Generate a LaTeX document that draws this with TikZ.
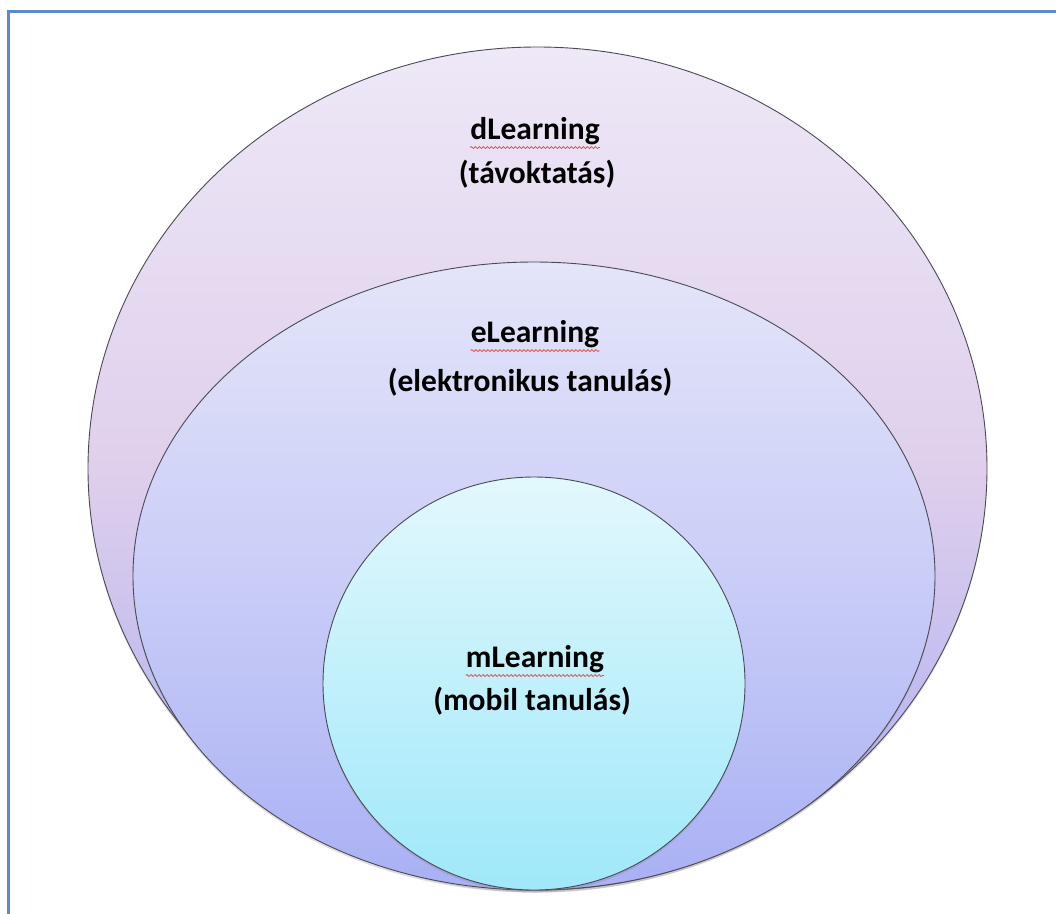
\documentclass[tikz,border=0pt]{standalone}
\usepackage{fontspec}
\setmainfont{Carlito}
\usetikzlibrary{shapes.geometric,shadows,decorations.pathmorphing}
\definecolor{frameblue}{HTML}{5B8BC9}
\definecolor{outtop}{HTML}{EEE8F7}
\definecolor{outmid}{HTML}{DFCFEC}
\definecolor{outbot}{HTML}{A8ACF2}
\definecolor{midtop}{HTML}{E4E5F9}
\definecolor{midmid}{HTML}{CACDF7}
\definecolor{midbot}{HTML}{A9B0F4}
\definecolor{intop}{HTML}{E2F8FC}
\definecolor{inbot}{HTML}{9FE8FA}
\definecolor{edge}{HTML}{4A4A55}
\definecolor{squig}{HTML}{E85050}
\tikzset{
  blob/.style={ellipse, draw=edge, line width=0.9pt, inner sep=0pt,
    drop shadow={opacity=0.25, shadow xshift=0pt, shadow yshift=-2.5pt}},
  lbl/.style={font=\fontsize{31.5}{44}\selectfont\bfseries, text=black, inner sep=0pt, align=center},
  squiggle/.style={draw=squig, line width=0.8pt, decorate,
    decoration={snake, amplitude=1pt, segment length=4pt}}
}
\begin{document}
\begin{tikzpicture}[x=1pt,y=-1pt]
\useasboundingbox (0,0) rectangle (1056,913);
% frame
\draw[frameblue, line width=3pt] (8.5,930) -- (8.5,11.5) -- (1070,11.5);
% ellipses
\node[blob, minimum width=899pt, minimum height=843pt,
  top color=outtop, bottom color=outbot, middle color=outmid] (dl) at (537.5,468.5) {};
\node[blob, minimum width=802pt, minimum height=628pt,
  top color=midtop, bottom color=midbot, middle color=midmid] (el) at (534,576) {};
\node[blob, minimum width=422pt, minimum height=413pt,
  top color=intop, bottom color=inbot] (ml) at (534,683.5) {};
% labels
\node[lbl, anchor=base] (dt1) at (535,139) {dLearning};
\node[lbl, anchor=base] (dt2) at (537,183) {(távoktatás)};
\node[lbl, anchor=base] (et1) at (535,342) {eLearning};
\node[lbl, anchor=base] (et2) at (530,391) {(elektronikus tanulás)};
\node[lbl, anchor=base] (mt1) at (535,667) {mLearning};
\node[lbl, anchor=base] (mt2) at (532,710) {(mobil tanulás)};
% spell-check squiggles
\draw[squiggle] ([yshift=-3pt]dt1.south west) -- ([yshift=-3pt]dt1.south east);
\draw[squiggle] ([yshift=-3pt]et1.south west) -- ([yshift=-3pt]et1.south east);
\draw[squiggle] ([yshift=-3pt]mt1.south west) -- ([yshift=-3pt]mt1.south east);
\end{tikzpicture}
\end{document}
